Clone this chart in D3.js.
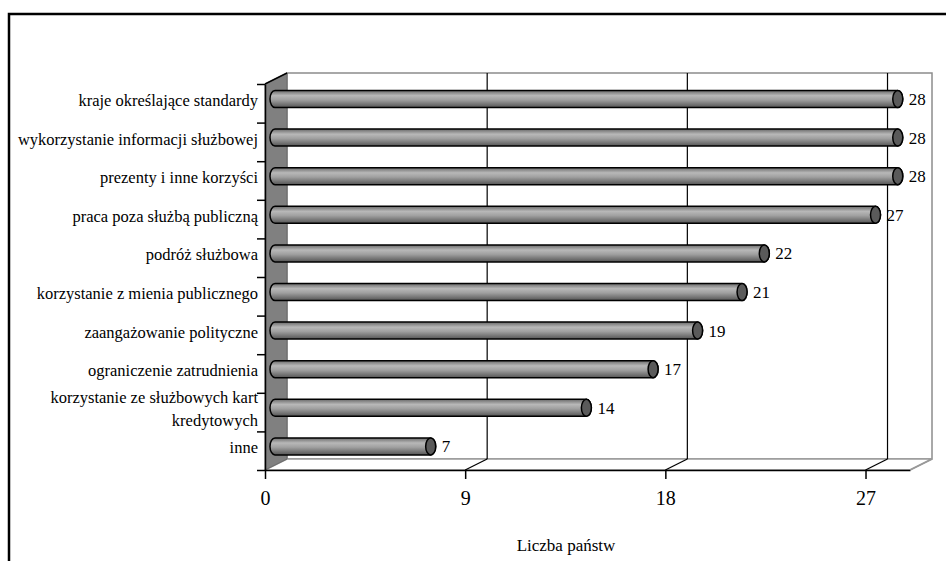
<!DOCTYPE html>
<html>
<head>
<meta charset="utf-8">
<script src="https://cdn.jsdelivr.net/npm/d3@7"></script>
<style>
    body { margin: 0; background: #fff; }
</style>
</head>
<body>
<div id="chart"></div>
<script>
// data, top to bottom as in the chart
const categories = [
    "kraje określające standardy",
    "wykorzystanie informacji służbowej",
    "prezenty i inne korzyści",
    "praca poza służbą publiczną",
    "podróż służbowa",
    "korzystanie z mienia publicznego",
    "zaangażowanie polityczne",
    "ograniczenie zatrudnienia",
    "korzystanie ze służbowych kart kredytowych",
    "inne"
];
const values = [28, 28, 28, 27, 22, 21, 19, 17, 14, 7];
const xTicks = [0, 9, 18, 27];
const xMax = 29;
const xTitle = "Liczba państw";

const serif = "Liberation Serif";

const params = {
    selector: "chart",
    width: 946,
    height: 561,
    left: 265,
    right: 910,
    top: 84,
    bottom: 470,
    depth: {dx: 22, dy: -11},
    barShift: {dx: 10, dy: -4.3},
    barHeight: 17,
    capRx: 5
}

const svg = d3.select(`#${params.selector}`)
    .append("svg")
    .attr("width", params.width)
    .attr("height", params.height)
    .attr("font-family", serif);

// outer frame (cut by the page on right and bottom)
svg.append("rect")
    .attr("x", 9)
    .attr("y", 14)
    .attr("width", 960)
    .attr("height", 580)
    .attr("fill", "none")
    .attr("stroke", "#000")
    .attr("stroke-width", 2.5);

const defs = svg.append("defs");
const grad = defs.append("linearGradient")
    .attr("id", "cyl")
    .attr("x1", 0).attr("y1", 0).attr("x2", 0).attr("y2", 1);
[[0, "#6a6a6a"], [0.3, "#b8b8b8"], [0.55, "#a0a0a0"], [1, "#555555"]].forEach(s => {
    grad.append("stop").attr("offset", s[0]).attr("stop-color", s[1]);
});

const xScale = d3.scaleLinear()
    .domain([0, xMax])
    .range([params.left, params.right]);

const yBand = d3.scaleBand()
    .domain(categories)
    .range([params.top, params.bottom]);

const yIdx = d3.scaleLinear()
    .domain([0, categories.length])
    .range([params.top, params.bottom]);

const dx = params.depth.dx, dy = params.depth.dy;
const g = svg.append("g");

// back wall
g.append("rect")
    .attr("x", params.left + dx)
    .attr("y", params.top + dy)
    .attr("width", params.right - params.left)
    .attr("height", params.bottom - params.top)
    .attr("fill", "#fff")
    .attr("stroke", "#8c8c8c")
    .attr("stroke-width", 1.5);

// floor
g.append("path")
    .attr("d", `M${params.left},${params.bottom} L${params.right},${params.bottom} L${params.right + dx},${params.bottom + dy} L${params.left + dx},${params.bottom + dy} Z`)
    .attr("fill", "#fff")
    .attr("stroke", "#9a9a9a")
    .attr("stroke-width", 1.5);

// gridlines on back wall + diagonals on floor
g.selectAll(".grid")
    .data(xTicks.filter(d => d > 0))
    .join("line")
    .attr("class", "grid")
    .attr("x1", d => xScale(d) + dx)
    .attr("x2", d => xScale(d) + dx)
    .attr("y1", params.top + dy)
    .attr("y2", params.bottom + dy)
    .attr("stroke", "#000")
    .attr("stroke-width", 1.2);

g.selectAll(".diag")
    .data(xTicks.filter(d => d > 0))
    .join("line")
    .attr("class", "diag")
    .attr("x1", d => xScale(d))
    .attr("x2", d => xScale(d) + dx)
    .attr("y1", params.bottom)
    .attr("y2", params.bottom + dy)
    .attr("stroke", "#000")
    .attr("stroke-width", 1.2);

// side wall
g.append("path")
    .attr("d", `M${params.left},${params.top} L${params.left + dx},${params.top + dy} L${params.left + dx},${params.bottom + dy} L${params.left},${params.bottom} Z`)
    .attr("fill", "#808080")
    .attr("stroke", "#6a6a6a")
    .attr("stroke-width", 1);

g.append("line")
    .attr("x1", params.left).attr("y1", params.top)
    .attr("x2", params.left + dx).attr("y2", params.top + dy)
    .attr("stroke", "#000")
    .attr("stroke-width", 1.5);

// bars as cylinders
const rows = categories.map((c, i) => ({cat: c, value: values[i]}));
const bh = params.barHeight, rx = params.capRx;
const barY = d => yBand(d.cat) + yBand.bandwidth() / 2 + params.barShift.dy;
const barX = v => xScale(v) + params.barShift.dx;

const bars = g.selectAll(".bar")
    .data(rows)
    .join("g")
    .attr("class", "bar");

bars.append("path")
    .attr("d", d => {
        let x0 = barX(0);
        let x1 = barX(d.value);
        let yc = barY(d);
        return `M${x0},${yc - bh / 2} L${x1},${yc - bh / 2} A${rx},${bh / 2} 0 0 1 ${x1},${yc + bh / 2} L${x0},${yc + bh / 2} A${rx},${bh / 2} 0 0 1 ${x0},${yc - bh / 2} Z`;
    })
    .attr("fill", "url(#cyl)")
    .attr("stroke", "#000")
    .attr("stroke-width", 1.5);

bars.append("ellipse")
    .attr("cx", d => barX(d.value))
    .attr("cy", barY)
    .attr("rx", rx)
    .attr("ry", bh / 2)
    .attr("fill", "#5a5a5a")
    .attr("stroke", "#000")
    .attr("stroke-width", 1.5);

bars.append("text")
    .attr("x", d => barX(d.value) + 11)
    .attr("y", barY)
    .attr("dy", "0.35em")
    .attr("font-family", serif)
    .attr("font-size", 17)
    .attr("fill", "#000")
    .text(d => d.value);

// left axis with ticks at band edges
const yAxis = svg.append("g")
    .attr("transform", `translate(${params.left}, 0)`)
    .call(d3.axisLeft(yIdx).tickValues(d3.range(categories.length + 1)).tickFormat("").tickSize(8).tickSizeOuter(0));
yAxis.selectAll("path, line").attr("stroke", "#000").attr("stroke-width", 1.5);

// bottom axis
const xAxis = svg.append("g")
    .attr("transform", `translate(0, ${params.bottom})`)
    .call(d3.axisBottom(xScale).tickValues(xTicks).tickSize(9).tickSizeOuter(0).tickPadding(12))
    .attr("font-family", serif)
    .attr("font-size", 20);
xAxis.select(".domain").attr("stroke", "#000").attr("stroke-width", 1.5);
xAxis.selectAll(".tick line").attr("stroke", "#000").attr("stroke-width", 1.5);
xAxis.selectAll(".tick text").attr("fill", "#000");

// right floor edge
svg.append("line")
    .attr("x1", params.right).attr("y1", params.bottom)
    .attr("x2", params.right + dx).attr("y2", params.bottom + dy)
    .attr("stroke", "#9a9a9a")
    .attr("stroke-width", 1.5);

// category labels, wrapped
svg.selectAll(".cat")
    .data(categories)
    .join("text")
    .attr("class", "cat")
    .attr("text-anchor", "end")
    .attr("font-family", serif)
    .attr("font-size", 16.5)
    .attr("fill", "#000")
    .each(function(d) {
        let el = d3.select(this);
        let words = d.split(" ");
        let lines = [];
        let line = [];
        let probe = el.append("tspan");
        words.forEach(w => {
            line.push(w);
            probe.text(line.join(" "));
            if (probe.node().getComputedTextLength() > 248 && line.length > 1) {
                line.pop();
                lines.push(line.join(" "));
                line = [w];
            }
        });
        lines.push(line.join(" "));
        probe.remove();
        let yc = yBand(d) + yBand.bandwidth() / 2 - 3;
        let lh = 23;
        lines.forEach((t, i) => {
            el.append("tspan")
                .attr("x", 258)
                .attr("y", yc + (i - (lines.length - 1) / 2) * lh)
                .attr("dy", "0.35em")
                .text(t);
        });
    });

// axis title
svg.append("text")
    .attr("x", 566)
    .attr("y", 545)
    .attr("dy", "0.35em")
    .attr("text-anchor", "middle")
    .attr("font-family", serif)
    .attr("font-size", 17)
    .attr("fill", "#000")
    .text(xTitle);
</script>
</body>
</html>
